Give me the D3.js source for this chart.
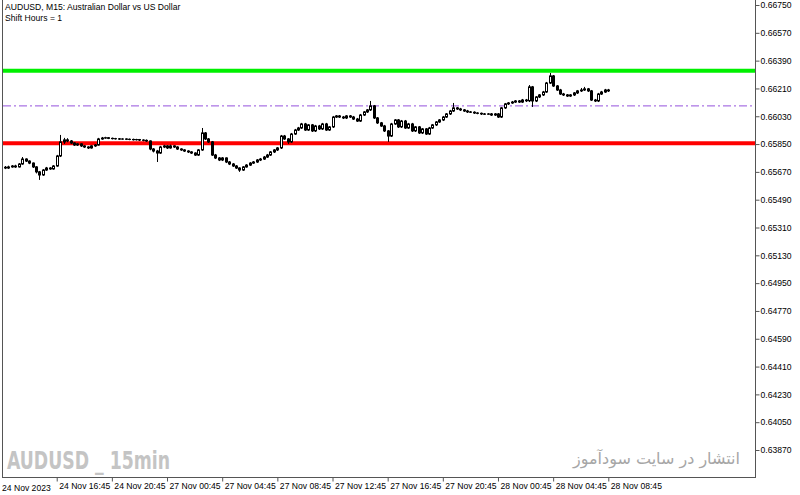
<!DOCTYPE html>
<html>
<head>
<meta charset="utf-8">
<script src="https://cdn.jsdelivr.net/npm/d3@7"></script>
<style>
  body { margin: 0; background: #fff; }
  svg { display: block; }
  .axis text { font-family: "Liberation Sans", Arial, sans-serif; font-size: 8.6px; fill: #000; }
</style>
</head>
<body>
<div id="chart"></div>
<script>
"use strict";

// bars are 15 min, weekend skipped, so x is just the bar number
var opens = [
  0.65700, 0.65695, 0.65702, 0.65708, 0.65702, 0.65721, 0.65753, 0.65740, 0.65727, 0.65702,
  0.65670, 0.65650, 0.65682, 0.65695, 0.65689, 0.65708, 0.65773, 0.65864, 0.65877, 0.65870,
  0.65857, 0.65844, 0.65851, 0.65838, 0.65831, 0.65825, 0.65838, 0.65844, 0.65883, 0.65889,
  0.65891, 0.65887, 0.65885, 0.65884, 0.65882, 0.65883, 0.65881, 0.65880, 0.65878, 0.65879,
  0.65876, 0.65874, 0.65870, 0.65818, 0.65805, 0.65792, 0.65831, 0.65838, 0.65825, 0.65838,
  0.65831, 0.65818, 0.65812, 0.65805, 0.65799, 0.65792, 0.65779, 0.65812, 0.65922, 0.65883,
  0.65864, 0.65779, 0.65760, 0.65747, 0.65760, 0.65734, 0.65721, 0.65708, 0.65695, 0.65682,
  0.65702, 0.65714, 0.65727, 0.65734, 0.65747, 0.65753, 0.65766, 0.65779, 0.65799, 0.65812,
  0.65825, 0.65902, 0.65883, 0.65864, 0.65915, 0.65941, 0.65954, 0.65980, 0.65941, 0.65974,
  0.65935, 0.65967, 0.65948, 0.65980, 0.65941, 0.65961, 0.66025, 0.66032, 0.66025, 0.66019,
  0.66032, 0.66025, 0.66012, 0.65999, 0.66038, 0.66058, 0.66071, 0.66097, 0.66019, 0.65987,
  0.65967, 0.65935, 0.65902, 0.65980, 0.66006, 0.65961, 0.65999, 0.65954, 0.65980, 0.65935,
  0.65961, 0.65922, 0.65948, 0.65915, 0.65954, 0.65974, 0.65993, 0.66006, 0.66025, 0.66045,
  0.66064, 0.66084, 0.66077, 0.66071, 0.66064, 0.66058, 0.66056, 0.66051, 0.66049, 0.66045,
  0.66043, 0.66045, 0.66038, 0.66045, 0.66025, 0.66084, 0.66110, 0.66116, 0.66122, 0.66129,
  0.66122, 0.66135, 0.66130, 0.66220, 0.66129, 0.66155, 0.66168, 0.66187, 0.66245, 0.66291,
  0.66226, 0.66200, 0.66174, 0.66168, 0.66161, 0.66168, 0.66181, 0.66194, 0.66200, 0.66207,
  0.66194, 0.66135, 0.66129, 0.66174, 0.66187, 0.66200
];
var highs = [
  0.65708, 0.65710, 0.65714, 0.65716, 0.65727, 0.65766, 0.65758, 0.65745, 0.65731, 0.65707,
  0.65676, 0.65688, 0.65702, 0.65701, 0.65714, 0.65780, 0.65909, 0.65890, 0.65888, 0.65876,
  0.65862, 0.65857, 0.65855, 0.65842, 0.65836, 0.65843, 0.65850, 0.65890, 0.65896, 0.65897,
  0.65895, 0.65892, 0.65890, 0.65889, 0.65888, 0.65887, 0.65886, 0.65885, 0.65884, 0.65883,
  0.65881, 0.65880, 0.65874, 0.65824, 0.65812, 0.65838, 0.65845, 0.65843, 0.65846, 0.65842,
  0.65836, 0.65823, 0.65817, 0.65810, 0.65804, 0.65797, 0.65818, 0.65954, 0.65928, 0.65889,
  0.65870, 0.65786, 0.65766, 0.65766, 0.65764, 0.65740, 0.65727, 0.65714, 0.65700, 0.65708,
  0.65720, 0.65733, 0.65740, 0.65753, 0.65760, 0.65773, 0.65786, 0.65805, 0.65818, 0.65831,
  0.65909, 0.65909, 0.65889, 0.65922, 0.65948, 0.65961, 0.65987, 0.65987, 0.65980, 0.65980,
  0.65974, 0.65974, 0.65987, 0.65987, 0.65967, 0.66032, 0.66038, 0.66038, 0.66032, 0.66038,
  0.66038, 0.66032, 0.66019, 0.66045, 0.66064, 0.66077, 0.66129, 0.66103, 0.66025, 0.65993,
  0.65974, 0.65941, 0.65987, 0.66012, 0.66012, 0.66006, 0.66006, 0.65987, 0.65987, 0.65967,
  0.65967, 0.65954, 0.65954, 0.65961, 0.65980, 0.65999, 0.66012, 0.66032, 0.66051, 0.66071,
  0.66116, 0.66090, 0.66084, 0.66077, 0.66071, 0.66064, 0.66062, 0.66056, 0.66054, 0.66051,
  0.66051, 0.66051, 0.66051, 0.66051, 0.66090, 0.66116, 0.66122, 0.66129, 0.66135, 0.66135,
  0.66142, 0.66142, 0.66232, 0.66226, 0.66161, 0.66174, 0.66194, 0.66252, 0.66310, 0.66297,
  0.66232, 0.66207, 0.66181, 0.66174, 0.66174, 0.66187, 0.66200, 0.66213, 0.66220, 0.66213,
  0.66200, 0.66142, 0.66181, 0.66194, 0.66207, 0.66207
];
var lows = [
  0.65688, 0.65689, 0.65697, 0.65696, 0.65698, 0.65716, 0.65734, 0.65720, 0.65695, 0.65660,
  0.65618, 0.65644, 0.65676, 0.65683, 0.65684, 0.65703, 0.65766, 0.65851, 0.65862, 0.65850,
  0.65838, 0.65838, 0.65831, 0.65825, 0.65818, 0.65820, 0.65832, 0.65840, 0.65878, 0.65884,
  0.65882, 0.65880, 0.65879, 0.65877, 0.65877, 0.65876, 0.65875, 0.65873, 0.65873, 0.65870,
  0.65868, 0.65864, 0.65810, 0.65796, 0.65734, 0.65786, 0.65824, 0.65818, 0.65820, 0.65825,
  0.65812, 0.65806, 0.65799, 0.65792, 0.65786, 0.65773, 0.65773, 0.65806, 0.65876, 0.65857,
  0.65773, 0.65753, 0.65740, 0.65740, 0.65727, 0.65714, 0.65702, 0.65689, 0.65670, 0.65676,
  0.65697, 0.65708, 0.65721, 0.65728, 0.65740, 0.65747, 0.65760, 0.65773, 0.65792, 0.65805,
  0.65818, 0.65877, 0.65851, 0.65857, 0.65909, 0.65935, 0.65948, 0.65935, 0.65935, 0.65928,
  0.65928, 0.65941, 0.65941, 0.65935, 0.65935, 0.65954, 0.66019, 0.66019, 0.66012, 0.66012,
  0.66019, 0.66006, 0.65993, 0.65993, 0.66032, 0.66051, 0.66064, 0.66012, 0.65980, 0.65961,
  0.65928, 0.65864, 0.65896, 0.65974, 0.65954, 0.65954, 0.65948, 0.65948, 0.65928, 0.65928,
  0.65915, 0.65915, 0.65909, 0.65909, 0.65948, 0.65967, 0.65987, 0.65999, 0.66019, 0.66038,
  0.66058, 0.66071, 0.66064, 0.66058, 0.66051, 0.66051, 0.66045, 0.66043, 0.66038, 0.66038,
  0.66038, 0.66032, 0.66032, 0.66019, 0.66019, 0.66077, 0.66103, 0.66110, 0.66116, 0.66116,
  0.66116, 0.66122, 0.66122, 0.66090, 0.66122, 0.66148, 0.66161, 0.66181, 0.66239, 0.66220,
  0.66194, 0.66168, 0.66161, 0.66155, 0.66155, 0.66161, 0.66174, 0.66187, 0.66194, 0.66187,
  0.66129, 0.66122, 0.66122, 0.66168, 0.66181, 0.66187
];
var closes = [
  0.65695, 0.65702, 0.65708, 0.65702, 0.65721, 0.65753, 0.65740, 0.65727, 0.65702, 0.65670,
  0.65650, 0.65682, 0.65695, 0.65689, 0.65708, 0.65773, 0.65864, 0.65877, 0.65870, 0.65857,
  0.65844, 0.65851, 0.65838, 0.65831, 0.65825, 0.65838, 0.65844, 0.65883, 0.65889, 0.65891,
  0.65887, 0.65885, 0.65884, 0.65882, 0.65883, 0.65881, 0.65880, 0.65878, 0.65879, 0.65876,
  0.65874, 0.65870, 0.65818, 0.65805, 0.65792, 0.65831, 0.65838, 0.65825, 0.65838, 0.65831,
  0.65818, 0.65812, 0.65805, 0.65799, 0.65792, 0.65779, 0.65812, 0.65922, 0.65883, 0.65864,
  0.65779, 0.65760, 0.65747, 0.65760, 0.65734, 0.65721, 0.65708, 0.65695, 0.65682, 0.65702,
  0.65714, 0.65727, 0.65734, 0.65747, 0.65753, 0.65766, 0.65779, 0.65799, 0.65812, 0.65825,
  0.65902, 0.65883, 0.65864, 0.65915, 0.65941, 0.65954, 0.65980, 0.65941, 0.65974, 0.65935,
  0.65967, 0.65948, 0.65980, 0.65941, 0.65961, 0.66025, 0.66032, 0.66025, 0.66019, 0.66032,
  0.66025, 0.66012, 0.65999, 0.66038, 0.66058, 0.66071, 0.66097, 0.66019, 0.65987, 0.65967,
  0.65935, 0.65902, 0.65980, 0.66006, 0.65961, 0.65999, 0.65954, 0.65980, 0.65935, 0.65961,
  0.65922, 0.65948, 0.65915, 0.65954, 0.65974, 0.65993, 0.66006, 0.66025, 0.66045, 0.66064,
  0.66084, 0.66077, 0.66071, 0.66064, 0.66058, 0.66056, 0.66051, 0.66049, 0.66045, 0.66043,
  0.66045, 0.66038, 0.66045, 0.66025, 0.66084, 0.66110, 0.66116, 0.66122, 0.66129, 0.66122,
  0.66135, 0.66130, 0.66220, 0.66129, 0.66155, 0.66168, 0.66187, 0.66245, 0.66291, 0.66226,
  0.66200, 0.66174, 0.66168, 0.66161, 0.66168, 0.66181, 0.66194, 0.66200, 0.66207, 0.66194,
  0.66135, 0.66129, 0.66174, 0.66187, 0.66200, 0.66194
];

var priceTicks = [0.66750, 0.66570, 0.66390, 0.66210, 0.66030, 0.65850, 0.65670, 0.65490, 0.65310,
                  0.65130, 0.64950, 0.64770, 0.64590, 0.64410, 0.64230, 0.64050, 0.63870];
var timeTickBars = [15, 31, 47, 63, 79, 95, 111, 127, 143, 159, 175];
var timeTickLabels = ["24 Nov 16:45", "24 Nov 20:45", "27 Nov 00:45", "27 Nov 04:45", "27 Nov 08:45",
                      "27 Nov 12:45", "27 Nov 16:45", "27 Nov 20:45", "28 Nov 00:45", "28 Nov 04:45",
                      "28 Nov 08:45"];
var firstBarLabel = "24 Nov 2023";

var resistanceLevel = 0.66325;   // green
var supportLevel = 0.65855;      // red
var dashLevel = 0.66097;         // purple dash-dot

var width = 800,
    height = 495,
    left = 3,
    right = 755,
    bottom = 477;

var bars = opens.map(function(o, i) {
  return { i: i, o: o, h: highs[i], l: lows[i], c: closes[i] };
});

var x = d3.scaleLinear()
    .domain([0, 175])
    .range([5, 608.3]);

var y = d3.scaleLinear()
    .domain([0.63870, 0.66750])
    .range([450, 5]);

var svg = d3.select("#chart").append("svg")
    .attr("width", width)
    .attr("height", height);

svg.append("rect")
    .attr("width", width)
    .attr("height", height)
    .attr("fill", "#fff");

// watermarks
svg.append("text")
    .attr("x", 7)
    .attr("y", 469)
    .attr("font-family", "'Liberation Sans Narrow', 'DejaVu Sans Condensed', sans-serif")
    .attr("font-weight", "bold")
    .attr("font-size", 25)
    .attr("textLength", 163)
    .attr("lengthAdjust", "spacingAndGlyphs")
    .attr("fill", "#c4c4c4")
    .text("AUDUSD _ 15min");

svg.append("text")
    .attr("x", 740)
    .attr("y", 464)
    .attr("text-anchor", "end")
    .attr("font-family", "'DejaVu Sans', sans-serif")
    .attr("font-size", 16)
    .attr("fill", "#a6a6a6")
    .text("انتشار در سایت سودآموز");

// horizontal levels
svg.append("line")
    .attr("x1", left).attr("x2", right)
    .attr("y1", y(dashLevel)).attr("y2", y(dashLevel))
    .attr("stroke", "#9452dc")
    .attr("stroke-width", 1)
    .attr("stroke-dasharray", "8,3,2,3");

svg.append("line")
    .attr("x1", left).attr("x2", right)
    .attr("y1", y(resistanceLevel)).attr("y2", y(resistanceLevel))
    .attr("stroke", "#00f000")
    .attr("stroke-width", 4);

svg.append("line")
    .attr("x1", left).attr("x2", right)
    .attr("y1", y(supportLevel)).attr("y2", y(supportLevel))
    .attr("stroke", "#ff0000")
    .attr("stroke-width", 4);

// candles
var candle = svg.append("g").selectAll("g")
    .data(bars)
  .enter().append("g");

candle.append("line")
    .attr("x1", function(d) { return Math.round(x(d.i)) + 0.5; })
    .attr("x2", function(d) { return Math.round(x(d.i)) + 0.5; })
    .attr("y1", function(d) { return y(d.h); })
    .attr("y2", function(d) { return y(d.l); })
    .attr("stroke", "#000")
    .attr("stroke-width", 1);

candle.append("rect")
    .attr("x", function(d) { return Math.round(x(d.i)) - 0.5; })
    .attr("y", function(d) { return y(Math.max(d.o, d.c)); })
    .attr("width", 2)
    .attr("height", function(d) { return Math.max(0.1, Math.abs(y(d.o) - y(d.c))); })
    .attr("fill", function(d) { return d.c >= d.o ? "#fff" : "#000"; })
    .attr("stroke", "#000")
    .attr("stroke-width", 1);

// frame
svg.append("line")
    .attr("x1", 2.5).attr("x2", 2.5).attr("y1", 0).attr("y2", bottom)
    .attr("stroke", "#555");

// price axis
var yAxis = d3.axisRight(y)
    .tickValues(priceTicks)
    .tickFormat(d3.format(".5f"))
    .tickSize(4)
    .tickPadding(1);

svg.append("g")
    .attr("class", "axis")
    .attr("transform", "translate(" + (right + 0.5) + ",0)")
    .call(yAxis)
    .call(function(g) { g.select(".domain").remove(); })
    .call(function(g) { g.selectAll(".tick line").attr("stroke", "#555"); });

svg.append("line")
    .attr("x1", right + 0.5).attr("x2", right + 0.5).attr("y1", 0).attr("y2", bottom)
    .attr("stroke", "#555");

// time axis
var xAxis = d3.axisBottom(x)
    .tickValues(timeTickBars)
    .tickFormat(function(d, i) { return timeTickLabels[i]; })
    .tickSize(4)
    .tickPadding(1);

var gx = svg.append("g")
    .attr("class", "axis")
    .attr("transform", "translate(0," + (bottom + 0.5) + ")")
    .call(xAxis)
    .call(function(g) { g.select(".domain").remove(); });

gx.selectAll(".tick line").attr("stroke", "#555");
gx.selectAll(".tick text")
    .attr("text-anchor", "start")
    .attr("x", 2);

gx.append("text")
    .attr("x", 2)
    .attr("y", 13)
    .attr("text-anchor", "start")
    .attr("fill", "#000")
    .text(firstBarLabel);

svg.append("line")
    .attr("x1", 2).attr("x2", right + 1).attr("y1", bottom + 0.5).attr("y2", bottom + 0.5)
    .attr("stroke", "#555");

// header
var header = svg.append("g")
    .attr("font-family", "'Liberation Sans', Arial, sans-serif")
    .attr("font-size", 8.6)
    .attr("fill", "#000");

header.append("text").attr("x", 5).attr("y", 10).text("AUDUSD, M15:  Australian Dollar vs US Dollar");
header.append("text").attr("x", 5).attr("y", 21).text("Shift Hours = 1");
</script>
</body>
</html>
